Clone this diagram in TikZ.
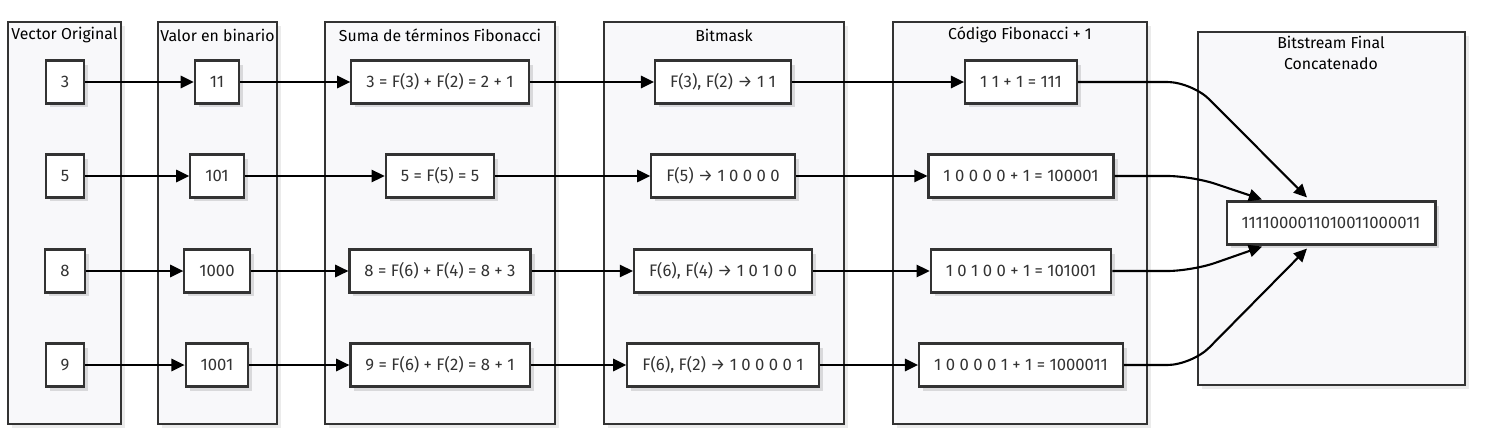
\documentclass[tikz,border=0pt]{standalone}
\usepackage{fontspec}
\setmainfont{Fira Sans}
\usetikzlibrary{arrows.meta,calc,shadows}
\definecolor{ink}{HTML}{333333}
\definecolor{panel}{HTML}{F8F8FA}
\begin{document}
\begin{tikzpicture}[x=0.02cm,y=-0.02cm,font=\fontsize{9}{12}\selectfont,
  grp/.style={draw=ink,line width=1.1pt,fill=panel,drop shadow={fill=black,opacity=.08,shadow xshift=0.08cm,shadow yshift=-0.08cm}},
  val/.style={draw=ink,line width=1.2pt,fill=white,text=ink,font=\fontsize{9.5}{12}\selectfont,minimum height=0.86cm,inner xsep=0.3cm,drop shadow={fill=black,opacity=.12,shadow xshift=0.08cm,shadow yshift=-0.08cm}},
  flow/.style={-{Triangle[length=7.5pt,width=7pt]},line width=1.2pt}]
\useasboundingbox (0,0) rectangle (1504,436);
\foreach \xa/\xb/\ttl in {8/121/Vector Original,158/277/Valor en binario,325/555/Suma de términos Fibonacci,604/844/Bitmask,893/1147/Código Fibonacci + 1}{
\draw[grp] (\xa,22) rectangle (\xb,424);
\node at ({(\xa+\xb)/2},35) {\ttl};
}
\draw[grp] (1198,32) rectangle (1465,385);
\node[align=center] at (1331,53) {Bitstream Final\\Concatenado};
\node[val] (orig1) at (65,82) {3};
\node[val] (orig2) at (65,176) {5};
\node[val] (orig3) at (65,271) {8};
\node[val] (orig4) at (65,365) {9};
\node[val] (bin1) at (217,82) {11};
\node[val] (bin2) at (217,176) {101};
\node[val] (bin3) at (217,271) {1000};
\node[val] (bin4) at (217,365) {1001};
\node[val] (suma1) at (440,82) {3 = F(3) + F(2) = 2 + 1};
\node[val] (suma2) at (440,176) {5 = F(5) = 5};
\node[val] (suma3) at (440,271) {8 = F(6) + F(4) = 8 + 3};
\node[val] (suma4) at (440,365) {9 = F(6) + F(2) = 8 + 1};
\node[val] (mask1) at (723,82) {F(3), F(2) → 1 1};
\node[val] (mask2) at (723,176) {F(5) → 1 0 0 0 0};
\node[val] (mask3) at (723,271) {F(6), F(4) → 1 0 1 0 0};
\node[val] (mask4) at (723,365) {F(6), F(2) → 1 0 0 0 0 1};
\node[val] (cod1) at (1021,82) {1 1 + 1 = 111};
\node[val] (cod2) at (1021,176) {1 0 0 0 0 + 1 = 100001};
\node[val] (cod3) at (1021,271) {1 0 1 0 0 + 1 = 101001};
\node[val] (cod4) at (1021,365) {1 0 0 0 0 1 + 1 = 1000011};
\node[val] (fin) at (1331,223) {1111000011010011000011};
\foreach \r in {1,2,3,4}{
\draw[flow] (orig\r.east) -- (bin\r.west);
\draw[flow] (bin\r.east) -- (suma\r.west);
\draw[flow] (suma\r.east) -- (mask\r.west);
\draw[flow] (mask\r.east) -- (cod\r.west);
}
\coordinate (kink) at (1192,0);
\draw[flow,rounded corners=14] (cod1.east) -- (cod1.east -| kink) -- ($(fin.north)+(-24,-3)$);
\draw[flow,rounded corners=14] (cod2.east) -- (cod2.east -| kink) -- ($(fin.north)+(-69,-1)$);
\draw[flow,rounded corners=14] (cod3.east) -- (cod3.east -| kink) -- ($(fin.south)+(-69,1)$);
\draw[flow,rounded corners=14] (cod4.east) -- (cod4.east -| kink) -- ($(fin.south)+(-24,3)$);
\end{tikzpicture}
\end{document}
